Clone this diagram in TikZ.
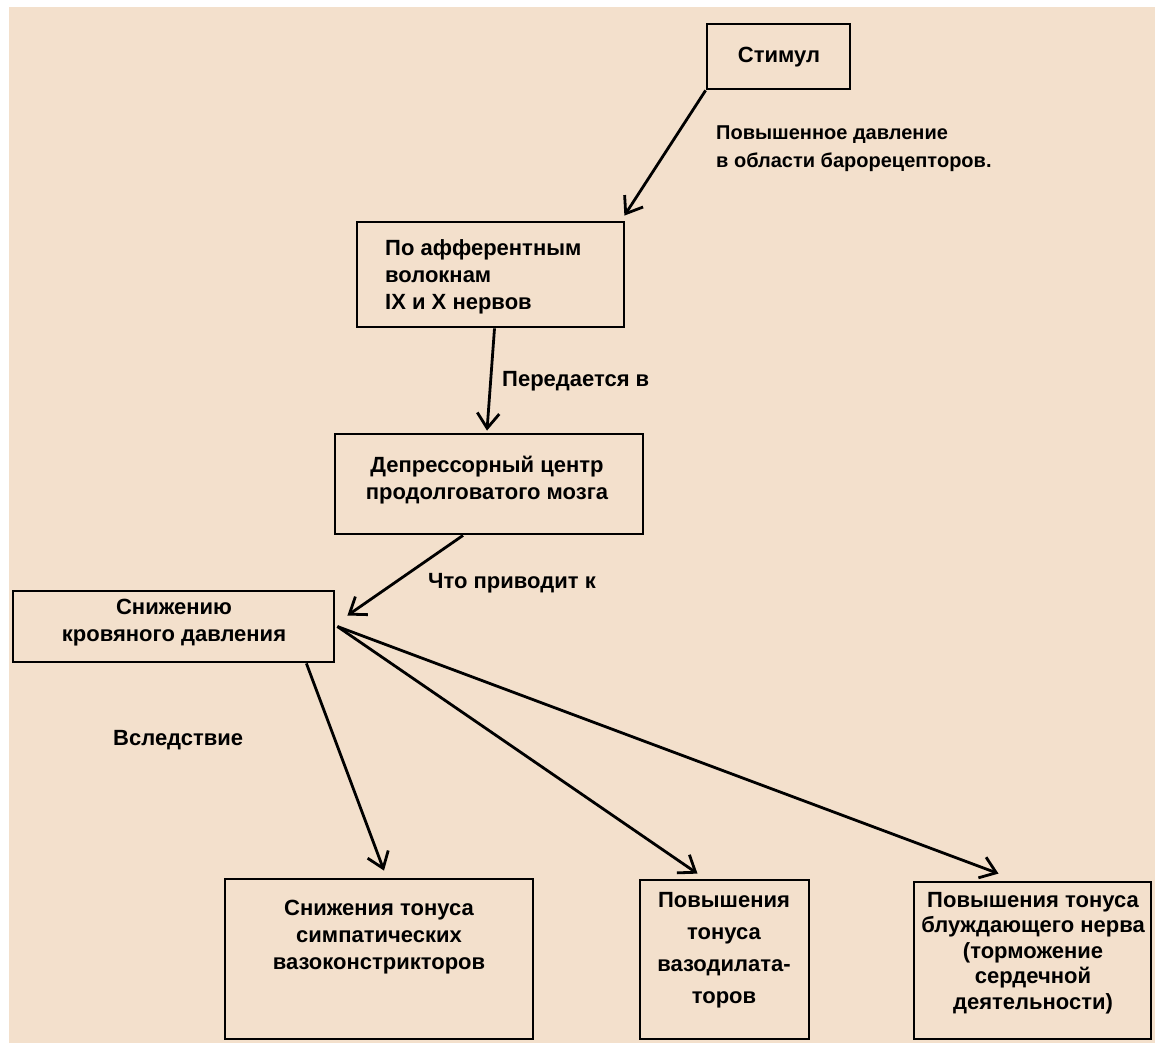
\documentclass[tikz,border=0pt]{standalone}
\usepackage{fontspec}
\setmainfont{Liberation Sans}
\usetikzlibrary{arrows.meta}
\definecolor{bgbeige}{RGB}{243,224,204}
\begin{document}
\begin{tikzpicture}[x=1bp,y=-1bp,
  box/.style={draw=black,line width=2.8bp,rectangle,inner sep=0pt},
  txt/.style={font=\bfseries\fontsize{22bp}{27bp}\selectfont,align=center,inner sep=0pt},
  arr/.style={line width=2.8bp,-{Straight Barb[length=15bp,width=22bp,line width=2.8bp]}}]
\useasboundingbox (0,0) rectangle (1155,1043);
\fill[white] (0,0) rectangle (1155,1043);
\fill[bgbeige] (9,7) rectangle (1155,1043);
% boxes
\node[box,minimum width=143bp,minimum height=65bp] (stim) at (778.5,56.5) {};
\node[box,minimum width=267bp,minimum height=105bp] (aff) at (490.5,274.5) {};
\node[box,minimum width=308bp,minimum height=100bp] (dep) at (489,484) {};
\node[box,minimum width=321bp,minimum height=71bp] (kro) at (173.5,626.5) {};
\node[box,minimum width=308bp,minimum height=160bp] (sim) at (379,959) {};
\node[box,minimum width=169bp,minimum height=159bp] (vaz) at (724.5,959.5) {};
\node[box,minimum width=237bp,minimum height=157bp] (vag) at (1032.5,960.5) {};
% texts
\node[txt] (tstim) at (779,57) {Стимул};
\node[txt,align=left,anchor=west] (taff) at (385,277) {По афферентным\\волокнам\\IX и X нервов};
\node[txt] (tdep) at (487,480) {Депрессорный центр\\продолговатого мозга};
\node[txt] (tkro) at (174,622.5) {Снижению\\кровяного давления};
\node[txt] (tsim) at (379,937) {Снижения тонуса\\симпатических\\вазоконстрикторов};
\node[txt,font=\bfseries\fontsize{22bp}{32bp}\selectfont] (tvaz) at (724,950) {Повышения\\тонуса\\вазодилата-\\торов};
\node[txt,font=\bfseries\fontsize{22bp}{25.5bp}\selectfont] (tvag) at (1033,953) {Повышения тонуса\\блуждающего нерва\\(торможение\\сердечной\\деятельности)};
% labels
\node[txt,font=\bfseries\fontsize{20bp}{28bp}\selectfont,align=left,anchor=west] (l1) at (716,149) {Повышенное давление\\в области барорецепторов.};
\node[txt,anchor=west] (l2) at (502,381) {Передается в};
\node[txt,anchor=west] (l3) at (428,583) {Что приводит к};
\node[txt,anchor=west] (l4) at (113,740) {Вследствие};
% arrows
\draw[arr] (stim.south west) -- ([xshift=-1bp,yshift=5bp]aff.north east);
\draw[arr] ([xshift=4bp]aff.south) -- ([xshift=-2bp,yshift=2bp]dep.north);
\draw[arr] ([xshift=-26bp]dep.south) -- ([xshift=12bp,yshift=11bp]kro.east);
\draw[arr] ([xshift=-29bp]kro.south east) -- ([xshift=5bp,yshift=7bp]sim.north);
\draw[arr] ([xshift=2bp]kro.east) -- ([xshift=-27bp,yshift=5bp]vaz.north);
\draw[arr] ([xshift=2bp]kro.east) -- ([xshift=-34bp,yshift=7bp]vag.north);
\end{tikzpicture}
\end{document}
